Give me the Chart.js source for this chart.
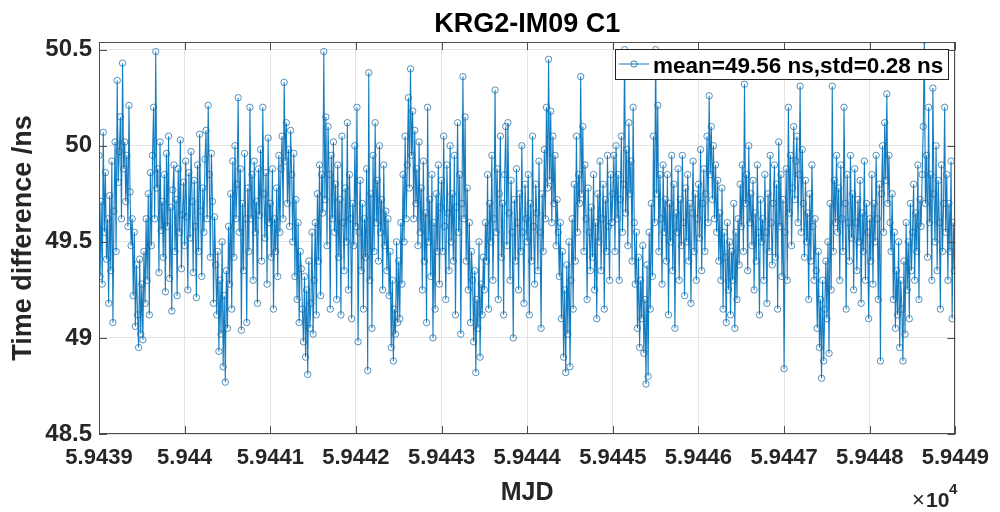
<!DOCTYPE html>
<html>
<head>
<meta charset="utf-8">
<script src="https://cdn.jsdelivr.net/npm/chart.js@4.4.1/dist/chart.umd.min.js"></script>
<style>
  html, body { margin: 0; padding: 0; background: #ffffff; }
  #wrap { width: 1000px; height: 512px; position: relative; }
</style>
</head>
<body>
<div id="wrap"><canvas id="c" width="1000" height="512"></canvas></div>
<script>
// ---- data ----
const chartTitle = 'KRG2-IM09 C1';
const xAxisTitle = 'MJD';
const yAxisTitle = 'Time difference /ns';
const seriesLabel = 'mean=49.56 ns,std=0.28 ns';
const mjdStart = 59439;
const samplesPerDay = 80;
const xTickValues = [59439, 59440, 59441, 59442, 59443, 59444, 59445, 59446, 59447, 59448, 59449];
const xTickLabels = ['5.9439', '5.944', '5.9441', '5.9442', '5.9443', '5.9444', '5.9445', '5.9446', '5.9447', '5.9448', '5.9449'];
const yTickValues = [48.5, 49, 49.5, 50, 50.5];
const yTickLabels = ['48.5', '49', '49.5', '50', '50.5'];
const xExponentLabel = '10';
const xExponent = '4';
const timeDiff = [
  // day 0
  49.95,49.32,49.71,49.28,50.07,49.55,49.86,49.41,49.62,49.18,
  49.74,49.35,49.92,49.08,49.66,50.02,49.45,50.34,49.81,49.97,
  50.15,49.62,50.43,49.88,50.02,49.71,49.95,49.58,50.21,49.76,
  49.48,49.62,49.22,49.55,49.06,49.38,49.12,48.95,49.41,49.02,
  49.28,48.99,49.45,49.18,49.62,49.30,49.75,49.12,49.86,49.48,
  49.95,50.20,49.62,50.49,49.78,49.88,49.34,50.02,49.56,49.71,
  49.42,49.85,49.24,49.96,49.58,50.05,49.31,49.68,49.14,49.77,
  49.90,49.45,49.72,49.22,49.88,49.55,50.03,49.36,49.64,49.81,
  // day 1
  49.48,49.92,49.63,49.25,49.86,49.52,49.97,49.71,49.34,49.82,
  49.58,49.21,49.90,49.45,50.06,49.66,49.32,49.78,49.55,49.93,
  50.08,49.62,50.21,49.85,49.42,49.96,49.71,49.18,49.63,49.38,
  49.12,49.45,48.93,49.30,49.02,49.50,48.85,49.22,48.77,49.35,
  49.05,49.58,49.28,49.75,49.15,49.92,49.42,50.00,49.62,49.80,
  50.25,49.55,49.88,49.04,49.70,49.35,49.96,49.62,49.08,49.78,
  49.45,50.20,49.62,49.85,49.30,49.92,49.55,49.71,49.18,49.88,
  49.64,49.98,49.40,50.20,49.75,49.52,49.86,49.28,50.04,49.60,
  // day 2
  49.70,49.42,49.88,49.15,49.62,49.45,49.78,49.32,49.95,49.55,
  49.88,50.05,49.62,50.33,49.92,50.12,49.70,49.98,49.58,50.08,
  49.85,49.50,49.96,49.32,49.72,49.20,49.60,49.08,49.45,49.36,
  49.15,48.98,49.32,48.90,49.25,48.81,49.40,49.05,49.18,49.55,
  49.02,49.30,49.60,49.12,49.75,49.40,49.90,49.22,49.85,49.65,
  50.49,49.72,50.15,49.48,50.10,49.85,49.15,49.95,49.62,50.02,
  49.55,49.80,49.20,49.90,49.42,49.72,49.12,50.05,49.60,49.35,
  49.78,49.50,50.12,49.25,49.85,49.62,49.10,49.70,49.48,50.00,
  // day 3
  49.58,50.20,48.98,49.55,49.82,49.35,49.70,49.15,49.62,49.42,
  49.88,48.83,50.38,49.30,49.75,49.05,49.95,49.45,50.12,49.60,
  49.82,49.40,50.00,49.55,49.72,49.25,49.90,49.48,49.66,49.35,
  49.62,49.22,49.45,48.95,49.30,48.88,49.15,49.02,49.50,49.08,
  49.40,49.10,49.60,49.28,49.85,49.50,50.05,49.62,49.90,50.25,
  49.78,50.40,49.95,50.18,49.62,50.08,49.70,49.88,49.48,50.02,
  49.55,49.78,49.25,49.92,49.40,49.65,49.08,50.20,49.50,49.72,
  49.32,49.85,49.00,49.60,49.15,49.75,49.45,49.90,49.28,49.68,
  // day 4
  49.82,49.45,50.05,49.58,49.20,49.90,49.65,49.35,50.00,49.50,
  49.75,49.40,49.95,49.12,49.68,50.12,49.55,49.85,49.02,49.70,
  50.36,49.62,50.15,49.40,49.78,49.25,49.60,49.08,49.45,49.30,
  48.98,49.35,48.82,49.20,49.05,49.50,48.90,49.28,49.12,49.42,
  49.25,49.60,49.40,49.85,49.15,49.70,49.50,49.95,49.30,49.62,
  50.29,49.55,49.88,49.20,49.75,50.05,49.42,49.70,49.12,49.85,
  50.10,49.48,50.12,49.65,49.30,49.82,49.55,49.00,49.72,49.40,
  49.88,49.60,49.25,49.75,49.45,50.00,49.55,49.18,49.80,49.62,
  // day 5
  49.50,49.85,49.12,49.70,49.40,50.05,49.58,49.28,49.80,49.65,
  49.35,49.92,49.55,49.05,49.75,49.45,49.98,49.62,50.20,49.78,
  50.45,49.82,50.18,49.60,50.05,49.70,49.95,49.48,49.72,49.55,
  49.32,49.60,49.10,49.45,48.90,49.25,48.82,49.38,49.02,49.50,
  48.85,49.30,49.62,49.15,49.80,49.40,50.05,49.55,49.85,49.70,
  50.36,49.75,50.10,49.45,49.90,49.62,49.20,49.78,49.55,49.35,
  49.68,49.42,49.85,49.25,49.60,49.10,49.75,49.50,49.92,49.35,
  49.62,49.80,49.15,49.72,49.45,49.95,49.58,49.30,49.85,49.60,
  // day 6
  49.75,49.95,49.45,50.00,49.62,49.85,49.30,49.72,50.05,49.55,
  49.80,50.50,49.65,49.98,49.48,50.12,49.75,49.92,49.40,50.20,
  49.60,49.28,49.55,49.05,49.42,48.95,49.30,49.10,49.48,48.92,
  49.20,48.76,49.38,48.80,49.55,49.15,49.70,49.32,50.05,49.60,
  50.50,49.75,50.21,49.45,49.85,49.62,49.28,49.90,49.55,49.72,
  49.40,49.85,49.12,49.70,49.50,49.95,49.35,49.80,49.05,49.65,
  49.55,49.88,49.30,49.72,49.48,49.95,49.60,49.22,49.78,49.50,
  49.85,49.40,49.70,49.18,49.65,49.92,49.45,49.75,49.30,49.62,
  // day 7
  49.80,49.52,49.98,49.35,49.70,49.88,49.45,49.75,50.05,49.60,
  50.26,49.85,50.10,49.72,50.00,49.62,49.90,49.55,49.82,49.40,
  49.65,49.30,49.78,49.15,49.55,49.42,49.08,49.60,49.25,49.50,
  49.12,49.45,49.30,49.70,49.05,49.55,49.20,49.62,49.38,49.80,
  49.58,49.90,49.45,50.32,49.70,49.85,49.35,50.00,49.60,49.75,
  49.48,49.82,49.25,49.65,49.40,49.90,49.55,49.12,49.72,49.50,
  49.62,49.30,49.85,49.55,49.18,49.75,49.45,49.95,49.60,49.38,
  49.70,49.90,49.42,49.80,49.15,50.02,49.58,49.85,49.32,49.72,
  // day 8
  48.84,49.55,49.88,49.30,50.20,49.65,49.95,49.48,49.78,50.10,
  49.72,49.92,50.05,49.60,49.85,50.31,49.55,49.98,49.70,49.42,
  49.82,49.50,49.65,49.20,49.75,49.40,49.90,49.58,49.30,49.62,
  49.35,49.05,49.45,48.95,49.20,48.79,49.30,48.88,49.15,49.40,
  49.10,49.50,48.92,49.70,49.25,50.31,49.45,49.82,49.60,49.95,
  49.55,49.78,49.30,49.90,49.62,49.45,50.20,49.70,49.15,49.85,
  49.60,49.40,49.95,49.52,49.75,49.25,49.88,49.60,49.35,49.72,
  49.50,49.82,49.18,49.65,49.45,49.92,49.30,49.70,49.55,49.10,
  // day 9
  49.62,49.40,49.85,49.28,49.70,49.50,49.95,49.62,49.20,49.80,
  48.88,49.75,50.00,49.55,50.12,49.82,50.27,49.70,49.95,49.60,
  49.45,49.75,49.20,49.55,49.05,49.35,49.12,49.50,48.95,49.30,
  49.15,48.88,49.40,49.02,49.60,49.25,49.50,49.10,49.70,49.35,
  49.55,49.80,49.30,49.65,49.45,49.90,49.20,49.72,49.58,49.85,
  50.10,50.55,49.70,49.95,49.42,50.20,49.60,49.85,49.30,50.30,
  49.75,49.50,50.00,49.35,49.82,49.60,49.15,49.90,49.45,49.70,
  50.20,49.55,49.85,49.30,49.70,49.45,49.92,49.10,49.60,49.35
];
const mjd = timeDiff.map((_, i) => mjdStart + i / samplesPerDay);

// ---- style ----
const FONT = "'Liberation Sans', Arial, Helvetica, sans-serif";
const lineColor = 'rgba(0,114,189,0.92)';
const markerColor = 'rgba(20,105,165,0.8)';
const axisColor = '#4d4d4d';
const gridColor = '#e4e4e4';

const PLOT = { left: 99, right: 959, top: 42, bottom: 434 };

const decorPlugin = {
  id: 'decor',
  afterDraw(chart) {
    const ctx = chart.ctx;
    const a = chart.chartArea;
    const xs = chart.scales.x, ys = chart.scales.y;
    ctx.save();
    // box
    ctx.strokeStyle = axisColor;
    ctx.lineWidth = 1;
    ctx.strokeRect(Math.round(a.left) + 0.5, Math.round(a.top) + 0.5,
                   Math.round(a.right - a.left) - 1, Math.round(a.bottom - a.top) - 1);
    // inward ticks
    const tl = 8;
    ctx.beginPath();
    xs.ticks.forEach(t => {
      const px = Math.round(xs.getPixelForValue(t.value)) + 0.5;
      ctx.moveTo(px, a.bottom); ctx.lineTo(px, a.bottom - tl);
      ctx.moveTo(px, a.top); ctx.lineTo(px, a.top + tl);
    });
    ys.ticks.forEach(t => {
      const py = Math.round(ys.getPixelForValue(t.value)) + 0.5;
      ctx.moveTo(a.left, py); ctx.lineTo(a.left + tl, py);
      ctx.moveTo(a.right, py); ctx.lineTo(a.right - tl, py);
    });
    ctx.stroke();

    // x10^4 exponent label
    ctx.fillStyle = '#262626';
    ctx.textBaseline = 'alphabetic';
    ctx.textAlign = 'left';
    ctx.font = `normal 22px ${FONT}`;
    ctx.fillText('\u00d7', 912, 507);
    ctx.font = `bold 21px ${FONT}`;
    ctx.fillText(xExponentLabel, 926, 507);
    ctx.font = `bold 15px ${FONT}`;
    ctx.fillText(xExponent, 949, 494);

    // legend box (top-right inside axes)
    const lx = 615, ly = 49, lw = 333, lh = 30;
    ctx.fillStyle = '#ffffff';
    ctx.fillRect(lx, ly, lw, lh);
    ctx.strokeStyle = '#262626';
    ctx.lineWidth = 1;
    ctx.strokeRect(lx + 0.5, ly + 0.5, lw, lh);
    const ds = chart.data.datasets[0];
    const cy = ly + lh / 2;
    ctx.strokeStyle = ds.borderColor;
    ctx.lineWidth = 1;
    ctx.beginPath(); ctx.moveTo(619, cy); ctx.lineTo(649, cy); ctx.stroke();
    ctx.strokeStyle = ds.pointBorderColor;
    ctx.beginPath(); ctx.arc(634, cy, 3.2, 0, Math.PI * 2); ctx.stroke();
    ctx.fillStyle = '#000000';
    ctx.font = `bold 22.5px ${FONT}`;
    ctx.fillText(ds.label, 653, 73);
    ctx.restore();
  }
};

const ctx = document.getElementById('c').getContext('2d');
new Chart(ctx, {
  type: 'line',
  data: {
    datasets: [{
      label: seriesLabel,
      data: mjd.map((x, i) => ({ x: x, y: timeDiff[i] })),
      borderColor: lineColor,
      borderWidth: 1.1,
      pointRadius: 3.2,
      pointHoverRadius: 3.2,
      pointBorderWidth: 0.9,
      pointBorderColor: markerColor,
      pointBackgroundColor: 'rgba(0,0,0,0)',
      fill: false,
      tension: 0
    }]
  },
  options: {
    responsive: false,
    animation: false,
    events: [],
    layout: { padding: { left: 0, right: 1000 - PLOT.right, top: 0, bottom: 0 } },
    plugins: {
      legend: { display: false },
      tooltip: { enabled: false },
      title: {
        display: true,
        fullSize: false,
        text: chartTitle,
        color: '#000000',
        font: { family: FONT, size: 27, weight: 'bold', lineHeight: 1.1 },
        padding: { top: 9.5, bottom: 42 - 9.5 - 29.7 }
      }
    },
    scales: {
      x: {
        type: 'linear',
        min: xTickValues[0],
        max: xTickValues[xTickValues.length - 1],
        afterBuildTicks(scale) { scale.ticks = xTickValues.map(v => ({ value: v })); },
        afterFit(scale) { scale.height = 512 - PLOT.bottom; },
        ticks: {
          autoSkip: false,
          maxRotation: 0,
          padding: 11,
          color: '#262626',
          font: { family: FONT, size: 22, weight: 'bold' },
          callback(v) { const i = xTickValues.indexOf(v); return i >= 0 ? xTickLabels[i] : ''; }
        },
        grid: { color: gridColor, drawTicks: false, lineWidth: 1 },
        border: { display: false },
        title: {
          display: true,
          text: xAxisTitle,
          color: '#262626',
          font: { family: FONT, size: 25, weight: 'bold', lineHeight: 1.2 },
          padding: { top: 0, bottom: 4 }
        }
      },
      y: {
        type: 'linear',
        min: 48.5,
        max: 50.54,
        afterBuildTicks(scale) { scale.ticks = yTickValues.map(v => ({ value: v })); },
        afterFit(scale) { scale.width = PLOT.left; },
        ticks: {
          autoSkip: false,
          padding: 7,
          color: '#262626',
          font: { family: FONT, size: 24, weight: 'bold' },
          callback(v) { const i = yTickValues.indexOf(v); return i >= 0 ? yTickLabels[i] : ''; }
        },
        grid: { color: gridColor, drawTicks: false, lineWidth: 1 },
        border: { display: false },
        title: {
          display: true,
          text: yAxisTitle,
          color: '#262626',
          font: { family: FONT, size: 27, weight: 'bold', lineHeight: 1.2 },
          padding: { top: 7.4, bottom: 0 }
        }
      }
    }
  },
  plugins: [decorPlugin]
});
</script>
</body>
</html>
